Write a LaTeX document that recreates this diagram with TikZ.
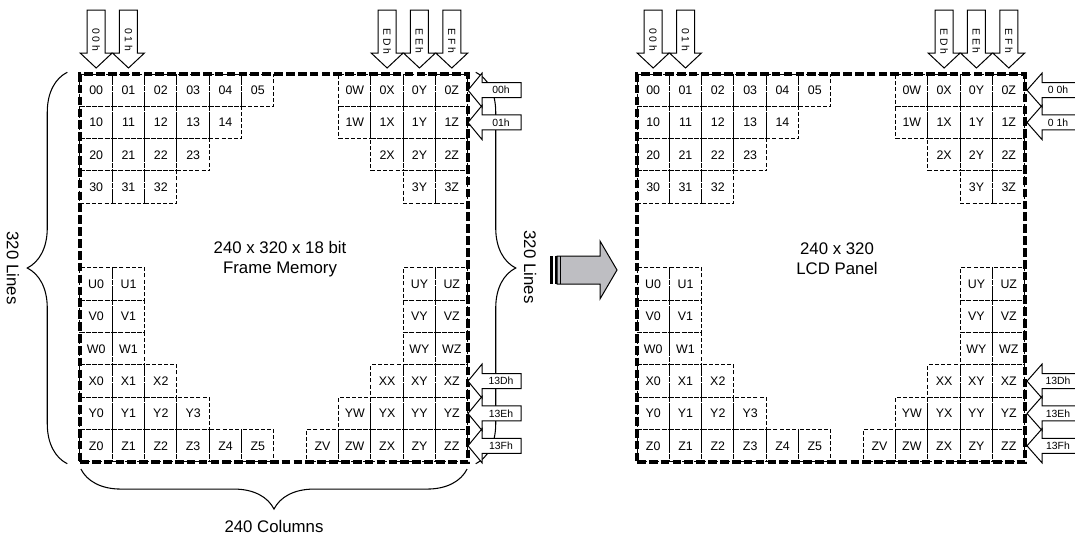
\documentclass[tikz,border=0pt]{standalone}
\usepackage{fontspec}
\setmainfont{Liberation Sans}
\usetikzlibrary{decorations.pathreplacing}
\definecolor{arrowgray}{RGB}{190,190,194}
\newcommand\colname[1]{\ifcase#1 0\or 1\or 2\or 3\or 4\or 5\or \or V\or W\or X\or Y\or Z\fi}

\begin{document}
\begin{tikzpicture}[x=0.75pt,y=-0.75pt,
  cell/.style={draw,dash pattern=on 3pt off 1.6pt,line width=0.75pt,minimum size=24.25pt,
    inner sep=0pt,font=\fontsize{9.3}{10}\selectfont},
  frame/.style={draw,line width=2.6pt,dash pattern=on 6.5pt off 2.4pt,minimum size=291pt,inner sep=0pt},
  blk/.style={draw,line width=0.75pt,fill=white,line join=miter},
  tag/.style={font=\fontsize{7.8}{9}\selectfont,inner sep=0pt},
  big/.style={font=\fontsize{12.6}{15}\selectfont,align=center},
  brc/.style={decorate,decoration={brace,amplitude=30pt},line width=0.8pt}]
\useasboundingbox (0,0) rectangle (1075,536);

\foreach \p/\ox in {mem/80,lcd/637} {
  \foreach \r/\rn/\lend/\rbeg in {0/0/5/8,1/1/4/8,2/2/3/9,3/3/2/10,6/U/1/10,
      7/V/1/10,8/W/1/10,9/X/2/9,10/Y/3/8,11/Z/5/7} {
    \foreach \c in {0,...,\lend}
      \node[cell] (\p-\r-\c) at ({\ox+(\c+0.5)*32.33},{74+(\r+0.5)*32.33}) {\rn\colname{\c}};
    \foreach \c in {\rbeg,...,11}
      \node[cell] (\p-\r-\c) at ({\ox+(\c+0.5)*32.33},{74+(\r+0.5)*32.33}) {\rn\colname{\c}};
  }
  \node[frame] (\p) at ({\ox+194},268) {};
  \foreach \c/\t in {0/{0 0 h},1/{0 1 h},9/{E D h},10/{E E h},11/{E F h}} {
    \pgfmathsetmacro\ax{\ox+(\c+0.5)*32.33}
    \draw[blk] (\ax-9,10) -- (\ax+9,10) -- (\ax+9,53) -- (\ax+16,53) -- (\ax,68)
      -- (\ax-16,53) -- (\ax-9,53) -- cycle;
    \node[tag,rotate=-90,anchor=west] (\p-in\c) at (\ax,28) {\t};
  }
}
\node[big] (memtxt) at (280,259) {240 x 320 x 18 bit\\Frame Memory};
\node[big] (lcdtxt) at (837,259) {240 x 320\\LCD Panel};

\draw[brc] ([xshift=-8.25pt]mem.south west) -- ([xshift=-8.25pt]mem.north west);
\draw[brc] ([xshift=4.5pt]mem.north east) -- ([xshift=4.5pt]mem.south east);
\draw[brc] ([shift={(-2pt,-4pt)}]mem.south east) -- ([shift={(2pt,-4pt)}]mem.south west);
\node[big,rotate=-90] (lines1) at (13,268) {320 Lines};
\node[big,rotate=-90] (lines2) at (530,267) {320 Lines};
\node[big] (cols) at (274,526) {240 Columns};

\foreach \r/\t/\u in {0/00h/0 0h,1/01h/0 1h,9/13Dh/13Dh,10/13Eh/13Eh,11/13Fh/13Fh} {
  \pgfmathsetmacro\ay{74+(\r+0.5)*32.33}
  \draw[blk] (468,\ay) -- (482,\ay-17) -- (482,\ay-7.5) -- (521,\ay-7.5) -- (521,\ay+7.5)
    -- (482,\ay+7.5) -- (482,\ay+17) -- cycle;
  \node[tag] (mem-out\r) at (501,\ay) {\t};
  \draw[blk] (1027,\ay) -- (1042,\ay-17) -- (1042,\ay-7.5) -- (1090,\ay-7.5) -- (1090,\ay+7.5)
    -- (1042,\ay+7.5) -- (1042,\ay+17) -- cycle;
  \node[tag] (lcd-out\r) at (1058,\ay) {\u};
}

\fill (550,256) rectangle (553,284);
\fill (555,256) rectangle (556.5,284);
\draw[fill=arrowgray,line width=0.75pt,line join=miter] (557,256) -- (600,256) -- (600,241)
  -- (617,270) -- (600,299) -- (600,284) -- (557,284) -- cycle;
\draw[line width=0.75pt] (560,256) -- (560,284);
\end{tikzpicture}
\end{document}
